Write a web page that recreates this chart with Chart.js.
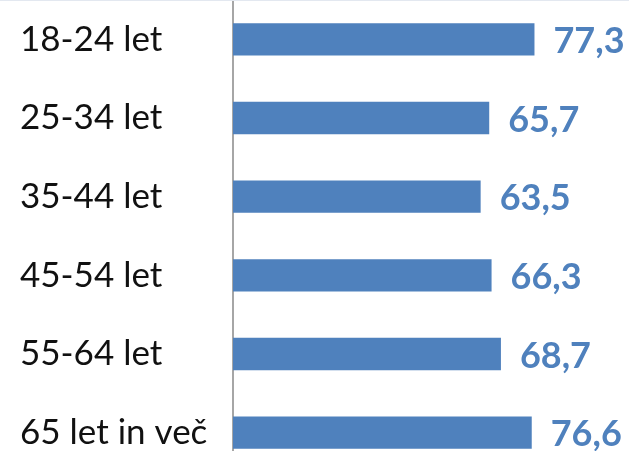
<!DOCTYPE html>
<html>
<head>
<meta charset="utf-8">
<script src="https://cdn.jsdelivr.net/npm/chart.js@4/dist/chart.umd.min.js"></script>
<style>
  html, body { margin: 0; padding: 0; background: #fff; overflow: hidden; }
  #topline { position: absolute; left: 0; top: 0; width: 629px; height: 1px; background: #e3e8f0; z-index: 2; }
  #wrap { position: absolute; left: 0; top: 0; width: 629px; height: 472px; }
</style>
</head>
<body>
<div id="topline"></div>
<div id="wrap"><canvas id="c"></canvas></div>
<script>
const categories = ["18-24 let", "25-34 let", "35-44 let", "45-54 let", "55-64 let", "65 let in več"];
const values = [77.3, 65.7, 63.5, 66.3, 68.7, 76.6];

const barColor = "#4f81bd";
const fontFamily = "Lato, 'Open Sans', sans-serif";

const valueLabels = {
  id: "valueLabels",
  afterDatasetsDraw(chart) {
    const ctx = chart.ctx;
    const meta = chart.getDatasetMeta(0);
    ctx.save();
    ctx.font = "bold 36px " + fontFamily;
    ctx.fillStyle = barColor;
    ctx.textAlign = "left";
    ctx.textBaseline = "middle";
    meta.data.forEach((bar, i) => {
      const txt = values[i].toFixed(1).replace(".", ",");
      ctx.fillText(txt, bar.x + 19, bar.y + 2);
    });
    ctx.restore();
  }
};

new Chart(document.getElementById("c"), {
  type: "bar",
  data: {
    labels: categories,
    datasets: [{
      data: values,
      backgroundColor: barColor,
      borderWidth: 0,
      categoryPercentage: 1,
      barPercentage: 0.41
    }]
  },
  options: {
    indexAxis: "y",
    responsive: true,
    maintainAspectRatio: false,
    animation: false,
    layout: { padding: { left: 20, right: 6, top: 0, bottom: 0 } },
    plugins: { legend: { display: false }, tooltip: { enabled: false } },
    scales: {
      x: {
        display: false,
        min: 0,
        max: 100
      },
      y: {
        grid: { display: false, drawTicks: false },
        border: { display: true, color: "#a6a6a6", width: 2 },
        afterFit(scale) {
          scale.width = 213;
          scale.paddingTop = 0;
          scale.paddingBottom = 0;
        },
        ticks: {
          crossAlign: "far",
          color: "#111",
          padding: 8,
          font: { family: fontFamily, size: 35 }
        }
      }
    }
  },
  plugins: [valueLabels]
});
</script>
</body>
</html>
